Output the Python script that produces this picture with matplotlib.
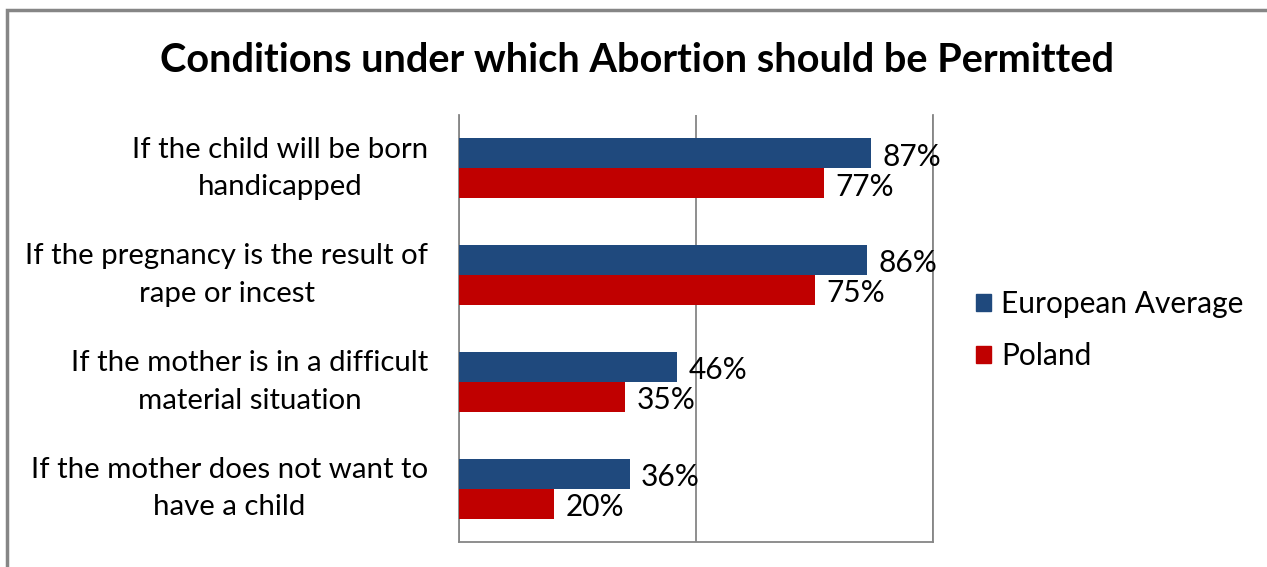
import matplotlib
matplotlib.use("Agg")
import matplotlib.pyplot as plt
from matplotlib.patches import Rectangle

categories = [
    "If the child will be born\nhandicapped",
    "If the pregnancy is the result of\nrape or incest",
    "If the mother is in a difficult\nmaterial situation",
    "If the mother does not want to\nhave a child",
]
european_average = [87, 86, 46, 36]
poland = [77, 75, 35, 20]
series_names = ["European Average", "Poland"]
colors = ["#1F497D", "#C00000"]
title = "Conditions under which Abortion should be Permitted"

FONT = "Lato"
plt.rcParams["font.family"] = [FONT, "DejaVu Sans"]

W, H = 1267, 567
fig = plt.figure(figsize=(W / 100, H / 100), dpi=100)

# axes in pixel coords
left, right, top, bottom = 459, 933, 115, 542
ax = fig.add_axes([left / W, 1 - bottom / H, (right - left) / W, (bottom - top) / H])

n = len(categories)
ypos = list(range(n))
bh = 0.28
ax.barh([y - bh / 2 for y in ypos], european_average, height=bh, color=colors[0], label=series_names[0], zorder=3)
ax.barh([y + bh / 2 for y in ypos], poland, height=bh, color=colors[1], label=series_names[1], zorder=3)

ax.set_xlim(0, 100)
ax.set_ylim(n - 0.5, -0.5)
ax.set_xticks([0, 50, 100])
ax.set_xticklabels([])
ax.tick_params(axis="both", length=0)
ax.set_yticks([])
ax.xaxis.grid(True, color="#868686", linewidth=1.3, zorder=0)
ax.spines["top"].set_visible(False)
for s in ["left", "bottom", "right"]:
    ax.spines[s].set_color("#868686")
    ax.spines[s].set_linewidth(1.3)

fs_val = 21.5
fs_cat = 21.2
dy = 0.03
for y, v in zip(ypos, european_average):
    ax.text(v + 2.4, y - bh / 2 + dy, f"{v}%", va="center", ha="left", fontsize=fs_val, zorder=4)
for y, v in zip(ypos, poland):
    ax.text(v + 2.4, y + bh / 2 + dy, f"{v}%", va="center", ha="left", fontsize=fs_val, zorder=4)

for y, c in zip(ypos, categories):
    ax.text(-6.5, y, c, ha="right", va="center", multialignment="center",
            fontsize=fs_cat, linespacing=1.55)

fig.text(0.5 * (160 + 1113) / W, 1 - 61 / H, title, ha="center", va="center",
         fontsize=28.6, fontweight="bold")

handles = [Rectangle((0, 0), 1, 1, color=c) for c in colors]
leg = fig.legend(handles, series_names, loc="center left",
                 bbox_to_anchor=(976 / W, 1 - 330 / H), frameon=False,
                 fontsize=fs_val, handlelength=0.5, handleheight=0.5,
                 handletextpad=0.35, labelspacing=0.8, borderpad=0, borderaxespad=0)

fig.patches.append(Rectangle((7 / W, -0.1), 1.2, 1 - 10 / H + 0.1, transform=fig.transFigure,
                             fill=False, edgecolor="#868686", linewidth=2.5))

fig.savefig("out.png", dpi=100)
